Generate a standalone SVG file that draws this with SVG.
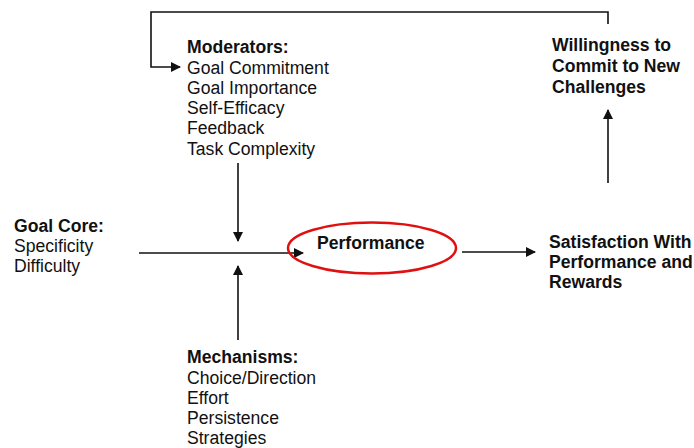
<svg xmlns="http://www.w3.org/2000/svg" width="694" height="448" viewBox="0 0 694 448">
<style>
text{font-family:"Liberation Sans",Arial,sans-serif;font-size:17.6px;fill:#111}
.b{font-weight:bold}
.ln{stroke:#111;stroke-width:1.6;fill:none}
</style>
<defs>
<marker id="ah" markerWidth="10" markerHeight="10" refX="9" refY="5" orient="auto" markerUnits="userSpaceOnUse">
<path d="M0,0 L10,5 L0,10 Z" fill="#111"/>
</marker>
</defs>
<rect width="694" height="448" fill="#fff"/>
<g id="connectors">
<path class="ln" d="M608,24 V12 H151 V67 H180" marker-end="url(#ah)"/>
<path class="ln" d="M238,163 V241" marker-end="url(#ah)"/>
<path class="ln" d="M238,340 V266" marker-end="url(#ah)"/>
<path class="ln" d="M139,253 H303" marker-end="url(#ah)"/>
<path class="ln" d="M462,252 H535" marker-end="url(#ah)"/>
<path class="ln" d="M608,183 V110" marker-end="url(#ah)"/>
</g>
<g id="moderators">
<text x="187" y="53" class="b">Moderators:</text>
<text x="187" y="74">Goal Commitment</text>
<text x="187" y="94">Goal Importance</text>
<text x="187" y="114">Self-Efficacy</text>
<text x="187" y="134">Feedback</text>
<text x="187" y="155">Task Complexity</text>
</g>
<g id="willingness">
<text x="552" y="51" class="b">Willingness to</text>
<text x="552" y="72" class="b">Commit to New</text>
<text x="552" y="93" class="b">Challenges</text>
</g>
<g id="goalcore">
<text x="14" y="232" class="b">Goal Core:</text>
<text x="14" y="252">Specificity</text>
<text x="14" y="272">Difficulty</text>
</g>
<g id="performance">
<ellipse cx="372" cy="248" rx="84" ry="25.5" fill="none" stroke="#e01010" stroke-width="2.5"/>
<text x="317" y="249" class="b">Performance</text>
</g>
<g id="satisfaction">
<text x="549" y="248" class="b">Satisfaction With</text>
<text x="549" y="268" class="b">Performance and</text>
<text x="549" y="288" class="b">Rewards</text>
</g>
<g id="mechanisms">
<text x="187" y="363" class="b">Mechanisms:</text>
<text x="187" y="384">Choice/Direction</text>
<text x="187" y="404">Effort</text>
<text x="187" y="424">Persistence</text>
<text x="187" y="444">Strategies</text>
</g>
</svg>
